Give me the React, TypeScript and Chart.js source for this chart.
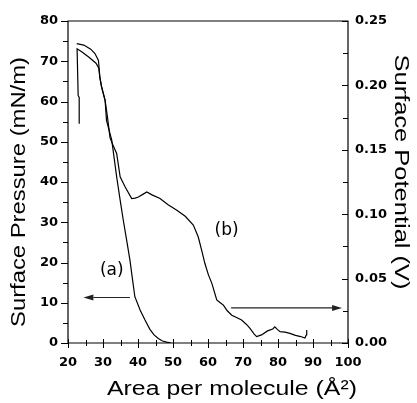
import React, { useEffect, useRef } from "react";
import { Chart, registerables } from "chart.js";

Chart.register(...registerables);

// Curve (a): surface pressure isotherm (left axis, mN/m)
const areaA = [23.2, 23.2, 22.9, 22.6, 24.0, 26.0, 28.0, 28.8, 29.1, 29.6, 30.6, 31.0, 32.5, 33.9, 34.9, 35.8, 36.8, 37.7, 38.4, 39.1, 40.6, 42.0, 43.4, 44.6, 45.8, 47.0, 48.2, 49.5];
const pressureA = [54.5, 61.0, 61.5, 73.1, 72.3, 71.0, 69.5, 68.3, 66.0, 63.6, 60.3, 55.3, 50.4, 41.3, 35.5, 30.5, 25.3, 20.6, 16.0, 11.5, 8.2, 5.7, 3.4, 2.0, 1.1, 0.5, 0.2, 0.0];

// Curve (b): surface potential (right axis, V)
const areaB = [22.5, 24.5, 26.5, 27.7, 28.7, 29.1, 29.6, 30.6, 31.3, 32.0, 32.9, 33.9, 34.9, 36.3, 38.2, 39.2, 40.1, 41.5, 42.5, 44.0, 46.3, 48.5, 51.1, 53.5, 55.8, 57.2, 58.2, 59.1, 60.1, 61.1, 62.5, 63.5, 64.4, 65.5, 66.8, 68.0, 69.6, 71.0, 72.0, 73.2, 73.9, 75.3, 77.0, 78.5, 79.1, 79.8, 80.6, 82.0, 83.4, 85.0, 86.5, 87.7, 88.1, 88.2];
const potentialB = [0.2325, 0.2313, 0.2281, 0.2247, 0.2194, 0.2063, 0.1988, 0.1884, 0.175, 0.1594, 0.1534, 0.1472, 0.1291, 0.1213, 0.1122, 0.1125, 0.1134, 0.1156, 0.1172, 0.115, 0.1122, 0.1075, 0.1031, 0.0984, 0.0916, 0.0825, 0.0719, 0.0619, 0.0531, 0.0463, 0.0334, 0.0313, 0.0294, 0.025, 0.0216, 0.02, 0.0178, 0.0144, 0.0113, 0.0069, 0.005, 0.0063, 0.0094, 0.0109, 0.0125, 0.0106, 0.0088, 0.0084, 0.0075, 0.0059, 0.005, 0.0038, 0.0063, 0.01];

// Axis ranges / ticks
const xRange = [20, 100];
const xStep = 10;
const yRange = [0, 80];
const yStep = 10;
const y2Range = [0, 0.25];
const y2Step = 0.05;

// Arrows (data coordinates): [fromX, toX, yValue]
const arrowA = [37.7, 24.4, 11.3]; // left axis (pressure)
const arrowB = [66.6, 98.3, 0.0272]; // right axis (potential)

// Annotation labels: [text, x, pressure-y]
const labelA = ["(a)", 32.5, 18.1];
const labelB = ["(b)", 65.3, 28.0];

const xTitle = "Area per molecule (Å²)";
const yTitle = "Surface Pressure (mN/m)";
const y2Title = "Surface Potential (V)";

const tickFont = { family: "'DejaVu Sans', sans-serif", size: 13, weight: "bold" as const };

function drawStretched(ctx: CanvasRenderingContext2D, text: string, cx: number, cy: number, rot: number, targetW: number, font: string) {
  ctx.save();
  ctx.translate(cx, cy);
  ctx.rotate(rot);
  ctx.font = font;
  const w = ctx.measureText(text).width;
  ctx.scale(targetW / w, 1);
  ctx.textAlign = "center";
  ctx.textBaseline = "middle";
  ctx.fillStyle = "#000";
  ctx.fillText(text, 0, 0);
  ctx.restore();
}

function drawArrow(ctx: CanvasRenderingContext2D, x1: number, y1: number, x2: number, y2: number) {
  const dir = Math.sign(x2 - x1);
  const headLen = 10;
  ctx.beginPath();
  ctx.moveTo(x1, y1);
  ctx.lineTo(x2 - dir * headLen, y2);
  ctx.stroke();
  ctx.beginPath();
  ctx.moveTo(x2, y2);
  ctx.lineTo(x2 - dir * headLen, y2 - 3);
  ctx.lineTo(x2 - dir * headLen, y2 + 3);
  ctx.closePath();
  ctx.fill();
}

const decorPlugin = {
  id: "decor",
  afterDraw(chart: any) {
    const { ctx, chartArea } = chart;
    const { left, right, top, bottom } = chartArea;
    const { x, y, y2 } = chart.scales;
    ctx.save();
    ctx.strokeStyle = "#000";
    ctx.lineWidth = 1.2;
    // frame
    ctx.beginPath();
    ctx.rect(left, top, right - left, bottom - top);
    ctx.stroke();
    ctx.lineWidth = 1;
    // x ticks (major + minor)
    for (let v = xRange[0]; v <= xRange[1] + 1e-9; v += xStep / 2) {
      const px = Math.round(x.getPixelForValue(v)) + 0.5;
      const major = Math.abs(v / xStep - Math.round(v / xStep)) < 1e-6;
      ctx.beginPath();
      ctx.moveTo(px, bottom - (major ? 4 : 3));
      ctx.lineTo(px, bottom + (major ? 5 : 3));
      ctx.stroke();
    }
    // left y ticks, outward
    for (let v = yRange[0]; v <= yRange[1] + 1e-9; v += yStep / 2) {
      const py = Math.round(y.getPixelForValue(v)) + 0.5;
      const major = Math.abs(v / yStep - Math.round(v / yStep)) < 1e-6;
      ctx.beginPath();
      ctx.moveTo(left - (major ? 7 : 5), py);
      ctx.lineTo(left, py);
      ctx.stroke();
    }
    // right y ticks, inward
    for (let v = y2Range[0]; v <= y2Range[1] + 1e-9; v += y2Step / 2) {
      const py = Math.round(y2.getPixelForValue(v)) + 0.5;
      const major = Math.abs(v / y2Step - Math.round(v / y2Step)) < 1e-6;
      ctx.beginPath();
      ctx.moveTo(right - (major ? 6 : 5), py);
      ctx.lineTo(right, py);
      ctx.stroke();
    }
    // arrows
    ctx.strokeStyle = "#222";
    ctx.fillStyle = "#222";
    ctx.lineWidth = 1.2;
    drawArrow(ctx, x.getPixelForValue(arrowA[0]), y.getPixelForValue(arrowA[2]), x.getPixelForValue(arrowA[1]), y.getPixelForValue(arrowA[2]));
    drawArrow(ctx, x.getPixelForValue(arrowB[0]), y2.getPixelForValue(arrowB[2]), x.getPixelForValue(arrowB[1]), y2.getPixelForValue(arrowB[2]));
    // curve labels
    ctx.fillStyle = "#000";
    ctx.font = "17px 'DejaVu Sans', sans-serif";
    ctx.textAlign = "center";
    ctx.textBaseline = "middle";
    for (const [t, lx, ly] of [labelA, labelB] as any) {
      ctx.fillText(t, x.getPixelForValue(lx), y.getPixelForValue(ly));
    }
    // axis titles
    const titleFont = "20px 'Liberation Sans', Arial, sans-serif";
    drawStretched(ctx, xTitle, 232, 389, 0, 250, titleFont);
    drawStretched(ctx, yTitle, 19, 192, -Math.PI / 2, 270, titleFont);
    drawStretched(ctx, y2Title, 401, 172, Math.PI / 2, 235, titleFont);
    ctx.restore();
  },
};

export default function App() {
  const ref = useRef<HTMLCanvasElement>(null);
  useEffect(() => {
    document.body.style.margin = "0";
    const canvas = ref.current!;
    const chart = new Chart(canvas, {
      type: "line",
      data: {
        datasets: [
          {
            label: "(a)",
            data: areaA.map((a, i) => ({ x: a, y: pressureA[i] })),
            yAxisID: "y",
            borderColor: "#000",
            borderWidth: 1.2,
            pointRadius: 0,
            tension: 0,
            fill: false,
          },
          {
            label: "(b)",
            data: areaB.map((a, i) => ({ x: a, y: potentialB[i] })),
            yAxisID: "y2",
            borderColor: "#000",
            borderWidth: 1.2,
            pointRadius: 0,
            tension: 0,
            fill: false,
          },
        ],
      },
      options: {
        responsive: false,
        animation: false,
        devicePixelRatio: 1,
        layout: { padding: { top: 21, left: 0, right: 0, bottom: 0 } },
        plugins: { legend: { display: false }, tooltip: { enabled: false }, title: { display: false } },
        scales: {
          x: {
            type: "linear",
            min: xRange[0],
            max: xRange[1],
            grid: { display: false, drawTicks: false },
            border: { display: false },
            ticks: { stepSize: xStep, color: "#000", font: tickFont, padding: 12, maxRotation: 0 },
            afterFit: (s: any) => { s.height = 60; },
          },
          y: {
            type: "linear",
            position: "left",
            min: yRange[0],
            max: yRange[1],
            grid: { display: false, drawTicks: false },
            border: { display: false },
            ticks: { stepSize: yStep, color: "#000", font: tickFont, padding: 10 },
            afterFit: (s: any) => { s.width = 68; },
          },
          y2: {
            type: "linear",
            position: "right",
            min: y2Range[0],
            max: y2Range[1],
            grid: { display: false, drawTicks: false },
            border: { display: false },
            ticks: { stepSize: y2Step, color: "#000", font: tickFont, padding: 7, callback: (v: any) => Number(v).toFixed(2) },
            afterFit: (s: any) => { s.width = 69; },
          },
        },
      },
      plugins: [decorPlugin],
    });
    return () => chart.destroy();
  }, []);
  return (
    <div style={{ position: "absolute", left: 0, top: 0, width: 417, height: 403, background: "#fff" }}>
      <canvas ref={ref} width={417} height={403} />
    </div>
  );
}
